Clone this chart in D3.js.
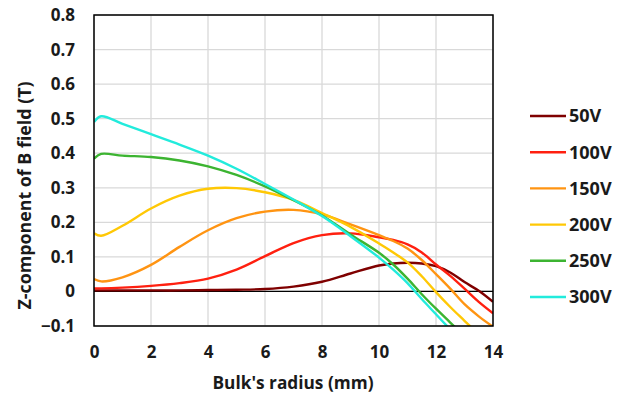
<!DOCTYPE html>
<html>
<head>
<meta charset="utf-8">
<script src="https://cdn.jsdelivr.net/npm/d3@7"></script>
<style>
  html, body { margin: 0; padding: 0; background: #fff; }
  svg { display: block; font-family: "Open Sans", "Liberation Sans", sans-serif; }
</style>
</head>
<body>
<svg id="chart" width="624" height="397"></svg>
<script>
// Bulk radius sample points (mm)
const radius = [0, 0.25, 1, 2, 3, 4, 5, 6, 7, 8, 9, 10, 10.5, 11, 11.5, 12, 12.5, 13, 13.5, 14];

// Z-component of B field (T) for each applied voltage
const series = ["50V", "100V", "150V", "200V", "250V", "300V"];
const b50  = [0.003, 0.003, 0.003, 0.003, 0.003, 0.004, 0.005, 0.007, 0.014, 0.028, 0.052, 0.075, 0.081, 0.083, 0.081, 0.073, 0.055, 0.027, 0.002, -0.030];
const b100 = [0.009, 0.009, 0.011, 0.016, 0.024, 0.037, 0.063, 0.102, 0.140, 0.163, 0.168, 0.157, 0.149, 0.136, 0.113, 0.078, 0.045, 0.008, -0.030, -0.063];
const b150 = [0.036, 0.029, 0.041, 0.077, 0.129, 0.177, 0.212, 0.231, 0.236, 0.223, 0.194, 0.163, 0.146, 0.124, 0.091, 0.050, 0.008, -0.037, -0.072, -0.102];
const b200 = [0.168, 0.161, 0.190, 0.240, 0.277, 0.297, 0.299, 0.287, 0.265, 0.227, 0.187, 0.139, 0.113, 0.084, 0.044, -0.002, -0.045, -0.085, -0.125, null];
const b250 = [0.384, 0.398, 0.393, 0.389, 0.379, 0.362, 0.337, 0.304, 0.264, 0.220, 0.165, 0.112, 0.078, 0.037, -0.008, -0.050, -0.090, -0.130, null, null];
const b300 = [0.490, 0.507, 0.485, 0.455, 0.425, 0.393, 0.355, 0.311, 0.266, 0.218, 0.160, 0.098, 0.063, 0.024, -0.022, -0.066, -0.110, null, null, null];
const values = [b50, b100, b150, b200, b250, b300];
const colors = ["#7f0000", "#ff2010", "#ff9412", "#ffc805", "#3cb431", "#22ebdc"];

// Axis ticks
const xTicks = [0, 2, 4, 6, 8, 10, 12, 14];
const yTicks = [-0.1, 0, 0.1, 0.2, 0.3, 0.4, 0.5, 0.6, 0.7, 0.8];

const svg = d3.select("#chart");
const m = { left: 94, top: 15, right: 493, bottom: 326 };

const x = d3.scaleLinear().domain([0, 14]).range([m.left, m.right]);
const y = d3.scaleLinear().domain([-0.1, 0.8]).range([m.bottom, m.top]);

// Gridlines
const grid = svg.append("g");
grid.selectAll("line.v").data(xTicks).join("line")
  .attr("x1", d => x(d)).attr("x2", d => x(d))
  .attr("y1", m.top).attr("y2", m.bottom)
  .attr("stroke", "#d9d9d9").attr("stroke-width", 1.3);
grid.selectAll("line.h").data(yTicks).join("line")
  .attr("x1", m.left).attr("x2", m.right)
  .attr("y1", d => y(d)).attr("y2", d => y(d))
  .attr("stroke", "#d9d9d9").attr("stroke-width", 1.3);

// Zero reference line
svg.append("line")
  .attr("x1", m.left).attr("x2", m.right)
  .attr("y1", y(0)).attr("y2", y(0))
  .attr("stroke", "#000").attr("stroke-width", 1.2);

// Clip curves to the plot area
svg.append("clipPath").attr("id", "plot-clip")
  .append("rect")
  .attr("x", m.left).attr("y", m.top)
  .attr("width", m.right - m.left).attr("height", m.bottom - m.top);

const line = d3.line()
  .defined(d => d[1] !== null)
  .x(d => x(d[0]))
  .y(d => y(d[1]))
  .curve(d3.curveCatmullRom.alpha(0.5));

const curves = svg.append("g").attr("clip-path", "url(#plot-clip)");
series.forEach((name, i) => {
  const pts = radius.map((r, j) => [r, values[i][j]]);
  curves.append("path")
    .attr("d", line(pts))
    .attr("fill", "none")
    .attr("stroke", colors[i])
    .attr("stroke-width", 2.4)
    .attr("stroke-linejoin", "round");
});

// Plot frame
svg.append("rect")
  .attr("x", m.left).attr("y", m.top)
  .attr("width", m.right - m.left).attr("height", m.bottom - m.top)
  .attr("fill", "none").attr("stroke", "#000").attr("stroke-width", 1.5);

// Axes (labels only)
const fmtY = d => d === 0 ? "0" : d3.format(".1f")(d);
const yAxis = svg.append("g")
  .attr("transform", `translate(${m.left},0)`)
  .call(d3.axisLeft(y).tickValues(yTicks).tickFormat(fmtY).tickSize(0).tickPadding(19));
const xAxis = svg.append("g")
  .attr("transform", `translate(0,${m.bottom})`)
  .call(d3.axisBottom(x).tickValues(xTicks).tickSize(0).tickPadding(20));
[yAxis, xAxis].forEach(a => {
  a.select(".domain").remove();
  a.selectAll("text")
    .attr("font-family", "Open Sans, sans-serif")
    .attr("font-size", 17).attr("font-weight", "bold").attr("fill", "#1a1a1a");
});

// Axis titles
svg.append("text")
  .attr("transform", `translate(31,${(m.top + m.bottom) / 2 + 25}) rotate(-90)`)
  .attr("text-anchor", "middle")
  .attr("font-size", 17).attr("font-weight", "bold").attr("fill", "#1a1a1a")
  .attr("textLength", 228).attr("lengthAdjust", "spacingAndGlyphs")
  .text("Z-component of B field (T)");
svg.append("text")
  .attr("x", 293).attr("y", 389)
  .attr("text-anchor", "middle")
  .attr("font-size", 17).attr("font-weight", "bold").attr("fill", "#1a1a1a")
  .attr("textLength", 161).attr("lengthAdjust", "spacingAndGlyphs")
  .text("Bulk's radius (mm)");

// Legend
const legend = svg.append("g");
series.forEach((name, i) => {
  const ly = 116 + i * 36.2;
  legend.append("line")
    .attr("x1", 530).attr("x2", 566)
    .attr("y1", ly).attr("y2", ly)
    .attr("stroke", colors[i]).attr("stroke-width", 2.4);
  legend.append("text")
    .attr("x", 569).attr("y", ly).attr("dy", "0.36em")
    .attr("font-size", 18).attr("font-weight", "bold").attr("fill", "#1a1a1a")
    .text(name);
});
</script>
</body>
</html>
